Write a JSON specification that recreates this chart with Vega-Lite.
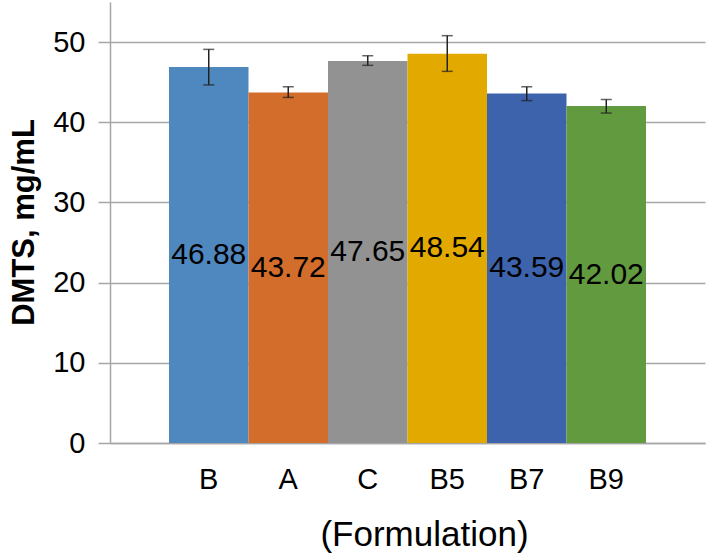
{
  "$schema": "https://vega.github.io/schema/vega-lite/v6.json",
  "width": 595,
  "height": 441,
  "autosize": {"type": "none"},
  "padding": {"left": 110, "top": 2, "right": 3, "bottom": 111},
  "background": "white",
  "config": {
    "view": {"stroke": null},
    "font": "Liberation Sans",
    "axis": {
      "labelFont": "Liberation Sans",
      "titleFont": "Liberation Sans",
      "labelColor": "#000000",
      "titleColor": "#000000",
      "domainColor": "#a6a6a6",
      "tickColor": "#a6a6a6",
      "gridColor": "#a6a6a6",
      "domainWidth": 1.5,
      "gridWidth": 1.5,
      "tickWidth": 1.5
    }
  },
  "data": {
    "values": [
      {"formulation": "B", "value": 46.88, "lo": 44.66, "hi": 49.09},
      {"formulation": "A", "value": 43.72, "lo": 43.1, "hi": 44.43},
      {"formulation": "C", "value": 47.65, "lo": 47.1, "hi": 48.3},
      {"formulation": "B5", "value": 48.54, "lo": 46.35, "hi": 50.8},
      {"formulation": "B7", "value": 43.59, "lo": 42.7, "hi": 44.43},
      {"formulation": "B9", "value": 42.02, "lo": 41.15, "hi": 42.84}
    ]
  },
  "encoding": {
    "x": {
      "field": "formulation",
      "type": "nominal",
      "sort": null,
      "scale": {"paddingInner": 0, "paddingOuter": 0.742},
      "axis": {
        "title": "(Formulation)",
        "titleFontSize": 35,
        "titleFontWeight": "normal",
        "titleX": 314,
        "titleY": 102,
        "titleBaseline": "alphabetic",
        "labelFontSize": 29,
        "labelPadding": 22,
        "labelAngle": 0,
        "ticks": false
      }
    }
  },
  "layer": [
    {
      "encoding": {
        "y": {
          "type": "quantitative",
          "scale": {"domain": [0, 55], "nice": false}
        }
      },
      "layer": [
        {
          "mark": {"type": "bar"},
          "encoding": {
            "y": {
              "field": "value",
              "type": "quantitative",
              "scale": {"domain": [0, 55], "nice": false},
              "axis": {
                "title": "DMTS, mg/mL",
                "titleFontSize": 31,
                "titleFontWeight": "bold",
                "titleX": -77,
                "titleY": 220,
                "titleAngle": -90,
                "titleAlign": "center",
                "titleBaseline": "alphabetic",
                "values": [0, 10, 20, 30, 40, 50],
                "labelFontSize": 29,
                "tickSize": 12,
                "labelPadding": 13,
                "grid": true
              }
            },
            "color": {
              "field": "formulation",
              "type": "nominal",
              "scale": {
                "domain": ["B", "A", "C", "B5", "B7", "B9"],
                "range": ["#4f87bf", "#d36d2c", "#929292", "#e2a900", "#3c63ab", "#629a40"]
              },
              "legend": null
            }
          }
        },
        {
          "mark": {"type": "rule", "color": "#222222", "strokeWidth": 1.5},
          "encoding": {
            "y": {"field": "lo", "type": "quantitative"},
            "y2": {"field": "hi"}
          }
        },
        {
          "mark": {"type": "tick", "color": "#222222", "size": 11, "thickness": 1.5, "orient": "horizontal"},
          "encoding": {
            "y": {"field": "lo", "type": "quantitative"}
          }
        },
        {
          "mark": {"type": "tick", "color": "#222222", "size": 11, "thickness": 1.5, "orient": "horizontal"},
          "encoding": {
            "y": {"field": "hi", "type": "quantitative"}
          }
        }
      ]
    },
    {
      "mark": {"type": "text", "fontSize": 30, "color": "#000000", "align": "center", "baseline": "middle"},
      "encoding": {
        "y": {
          "field": "value",
          "type": "quantitative",
          "scale": {"domain": [0, 110], "nice": false},
          "axis": null
        },
        "text": {"field": "value", "type": "quantitative", "format": ".2f"}
      }
    }
  ],
  "resolve": {"scale": {"y": "independent"}}
}
